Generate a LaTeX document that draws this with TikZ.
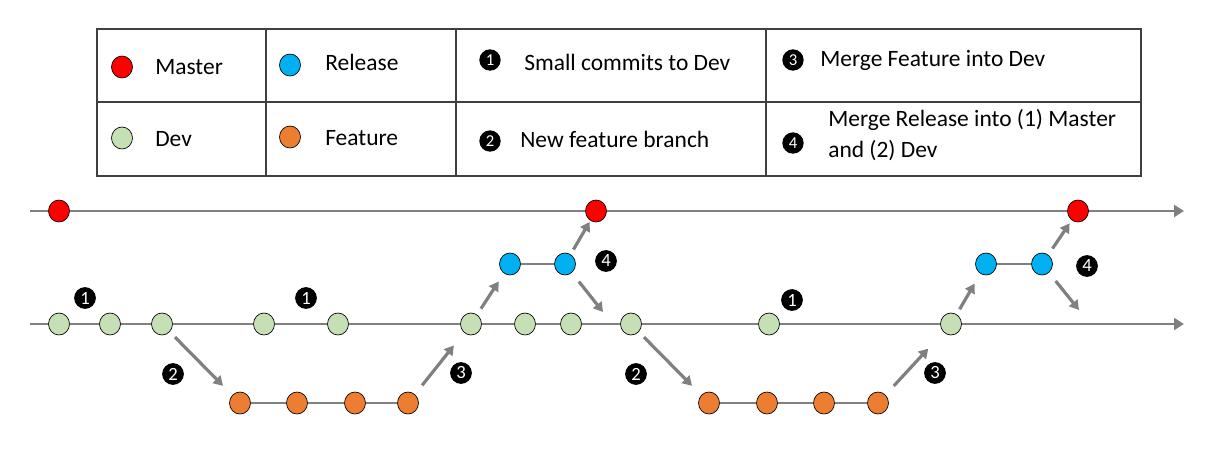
\documentclass[tikz,border=0pt]{standalone}
\usepackage{fontspec}
\setmainfont{Carlito}
\usepackage{xcolor}
\usetikzlibrary{arrows.meta,shapes.geometric}
\definecolor{mastercol}{HTML}{FF0000}
\definecolor{releasecol}{HTML}{00B0F0}
\definecolor{devcol}{HTML}{C5E0B4}
\definecolor{featurecol}{HTML}{ED7D31}
\definecolor{linecol}{HTML}{808080}
\definecolor{tablecol}{HTML}{404040}

\begin{document}
\begin{tikzpicture}[x=0.75pt,y=-0.75pt,
        commit/.style={ellipse,draw=black,line width=0.5pt,minimum width=15.75pt,minimum height=16.5pt,inner sep=0pt},
        master/.style={commit,fill=mastercol},
        release/.style={commit,fill=releasecol},
        dev/.style={commit,fill=devcol},
        feature/.style={commit,fill=featurecol},
        num/.style={circle,fill=black,text=white,minimum size=16.3pt,inner sep=0pt,font=\fontsize{14}{14}\selectfont},
        tnum/.style={num,minimum size=16pt,font=\fontsize{12.5}{12.5}\selectfont},
        txt/.style={anchor=base west,inner sep=0pt,font=\fontsize{17.6}{23.25}\selectfont},
        tline/.style={draw=tablecol,line width=1pt},
        branch/.style={draw=linecol,line width=2.1pt},
        mainline/.style={branch,-{Triangle[length=7.5pt,width=9pt]}},
        arr/.style={draw=linecol,line width=2.4pt,-{Triangle[length=7pt,width=8pt]}}]
        \useasboundingbox (0,0) rectangle (1215,461);
        % legend table
        \draw[tline] (97,29) rectangle (1141,176);
        \draw[tline] (97,102) -- (1141,102);
        \draw[tline] (266,29) -- (266,176);
        \draw[tline] (456,29) -- (456,176);
        \draw[tline] (766,29) -- (766,176);
        \node[master](lm) at (122,67) {};
        \node[txt](tm) at (155,74) {Master};
        \node[release](lr) at (290,65) {};
        \node[txt](tr) at (325,70.7) {Release};
        \node[tnum](t1) at (490,60) {1};
        \node[txt](tc) at (524,70) {Small commits to Dev};
        \node[tnum](t3) at (793,60) {3};
        \node[txt](tf) at (820,66.7) {Merge Feature into Dev};
        \node[dev](ld) at (122,138) {};
        \node[txt](td) at (155,146.7) {Dev};
        \node[feature](lf) at (290,137) {};
        \node[txt](tff) at (325,145) {Feature};
        \node[tnum](t2) at (490,141) {2};
        \node[txt](tn) at (520,147.7) {New feature branch};
        \node[tnum](t4) at (793,143) {4};
        \node[txt,align=left](tl) at (828,157.7) {Merge Release into (1) Master\\and (2) Dev};
        % master
        \coordinate(ms) at (30,211);
        \coordinate(me) at (1184,211);
        \node[master](m1) at (59,211) {};
        \node[master](m2) at (596,211) {};
        \node[master](m3) at (1078,211) {};
        % release
        \node[release](r1) at (510,264) {};
        \node[release](r2) at (565,264) {};
        \node[release](r3) at (986,264) {};
        \node[release](r4) at (1042,264) {};
        % dev
        \coordinate(ds) at (30,324);
        \coordinate(de) at (1184,324);
        \node[dev](d1) at (59,324) {};
        \node[dev](d2) at (110,324) {};
        \node[dev](d3) at (162,324) {};
        \node[dev](d4) at (264,324) {};
        \node[dev](d5) at (338,324) {};
        \node[dev](d6) at (471,324) {};
        \node[dev](d7) at (525,324) {};
        \node[dev](d8) at (571,324) {};
        \node[dev](d9) at (631,324) {};
        \node[dev](d10) at (769,324) {};
        \node[dev](d11) at (951,324) {};
        % feature
        \node[feature](f1) at (240,403) {};
        \node[feature](f2) at (297,403) {};
        \node[feature](f3) at (355,403) {};
        \node[feature](f4) at (408,403) {};
        \node[feature](f5) at (709,403) {};
        \node[feature](f6) at (767,403) {};
        \node[feature](f7) at (824,403) {};
        \node[feature](f8) at (878,403) {};
        \coordinate(x1) at (603,312);
        \coordinate(x2) at (1079,310);
        % step labels
        \node[num](n1a) at (85,298) {1};
        \node[num](n1b) at (306,298) {1};
        \node[num](n1c) at (792,300) {1};
        \node[num](n2a) at (173,374) {2};
        \node[num](n2b) at (636,374) {2};
        \node[num](n3a) at (461,373) {3};
        \node[num](n3b) at (935,373) {3};
        \node[num](n4a) at (606,261) {4};
        \node[num](n4b) at (1087,266) {4};
        % branches
        \draw[mainline](ms)--(m1)--(m2)--(m3)--(me);
        \draw[mainline](ds)--(d1)--(d2)--(d3)--(d4)--(d5)--(d6)--(d7)--(d8)--(d9)--(d10)--(d11)--(de);
        \draw[branch](f1)--(f2)--(f3)--(f4);
        \draw[branch](f5)--(f6)--(f7)--(f8);
        \draw[branch](r1)--(r2);
        \draw[branch](r3)--(r4);
        % merges
        \draw[arr,shorten <=5.6pt,shorten >=9.8pt](d3)--(f1);
        \draw[arr,shorten <=8.6pt,shorten >=12.2pt](f4)--(d6);
        \draw[arr,shorten <=5.3pt,shorten >=7.2pt](d6)--(r1);
        \draw[arr,shorten <=4.1pt,shorten >=1pt](r2)--(m2);
        \draw[arr,shorten <=8.4pt](r2)--(x1);
        \draw[arr,shorten <=5.6pt,shorten >=9.8pt](d9)--(f5);
        \draw[arr,shorten <=9.1pt,shorten >=16.8pt](f8)--(d11);
        \draw[arr,shorten <=4.4pt,shorten >=8.6pt](d11)--(r3);
        \draw[arr,shorten <=5.6pt,shorten >=2.8pt](r4)--(m3);
        \draw[arr,shorten <=8pt](r4)--(x2);
        \end{tikzpicture}
\end{document}
